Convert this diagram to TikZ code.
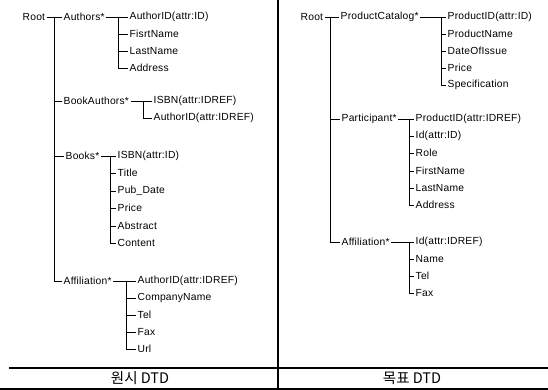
\documentclass[tikz,border=0pt]{standalone}
\usepackage{fontspec}
\setmainfont{Liberation Sans}[LetterSpace=2]
\newfontfamily\krfont{Noto Sans CJK KR}
\begin{document}
\begin{tikzpicture}[x=1pt,y=-1pt,
  lbl/.style={anchor=west,inner sep=1.5pt,font=\fontsize{10.3}{12}\selectfont},
  conn/.style={line width=0.7pt},
  frame/.style={line width=1.1pt},
  title/.style={font=\krfont\fontsize{14.5}{16}\selectfont,inner sep=1pt}]
\useasboundingbox (0,0) rectangle (548,390);
% ---------- left panel ----------
\node[lbl] (root1) at (21,17) {Root};
\node[lbl] (authors) at (62,17) {Authors*};
\node[lbl] (a1) at (128,17) {AuthorID(attr:ID)};
\node[lbl] (a2) at (128,34) {FisrtName};
\node[lbl] (a3) at (128,51) {LastName};
\node[lbl] (a4) at (128,68) {Address};
\node[lbl] (bauth) at (62,101) {BookAuthors*};
\node[lbl] (b1) at (152,101) {ISBN(attr:IDREF)};
\node[lbl] (b2) at (152,118) {AuthorID(attr:IDREF)};
\node[lbl] (books) at (64,156) {Books*};
\node[lbl] (c1) at (116,156) {ISBN(attr:ID)};
\node[lbl] (c2) at (116,173) {Title};
\node[lbl] (c3) at (116,191) {Pub\_Date};
\node[lbl] (c4) at (116,208) {Price};
\node[lbl] (c5) at (116,226) {Abstract};
\node[lbl] (c6) at (116,243) {Content};
\node[lbl] (aff1) at (62,281) {Affiliation*};
\node[lbl] (d1) at (136,281) {AuthorID(attr:IDREF)};
\node[lbl] (d2) at (136,298) {CompanyName};
\node[lbl] (d3) at (136,315) {Tel};
\node[lbl] (d4) at (136,332) {Fax};
\node[lbl] (d5) at (136,349) {Url};
\coordinate (t0) at (54,17);
\coordinate (tA) at (118,17);
\coordinate (tB) at (143,101);
\coordinate (tC) at (110,156);
\coordinate (tD) at (126,281);
\draw[conn] (root1.east) -- (authors.west);
\draw[conn] (t0) |- (aff1.west);
\draw[conn] (t0 |- bauth.west) -- (bauth.west);
\draw[conn] (t0 |- books.west) -- (books.west);
\draw[conn] (authors.east) -- (a1.west);
\draw[conn] (tA) |- (a4.west);
\foreach \n in {a2,a3} \draw[conn] (tA |- \n.west) -- (\n.west);
\draw[conn] (bauth.east) -- (b1.west);
\draw[conn] (tB) |- (b2.west);
\draw[conn] (books.east) -- (c1.west);
\draw[conn] (tC) |- (c6.west);
\foreach \n in {c2,c3,c4,c5} \draw[conn] (tC |- \n.west) -- (\n.west);
\draw[conn] (aff1.east) -- (d1.west);
\draw[conn] (tD) |- (d5.west);
\foreach \n in {d2,d3,d4} \draw[conn] (tD |- \n.west) -- (\n.west);
% ---------- right panel ----------
\node[lbl] (root2) at (299,17) {Root};
\node[lbl] (pcat) at (339,17) {ProductCatalog*};
\node[lbl] (p1) at (446,17) {ProductID(attr:ID)};
\node[lbl] (p2) at (446,34) {ProductName};
\node[lbl] (p3) at (446,51) {DateOfIssue};
\node[lbl] (p4) at (446,68) {Price};
\node[lbl] (p5) at (446,85) {Specification};
\node[lbl] (part) at (340,119) {Participant*};
\node[lbl] (q1) at (414,119) {ProductID(attr:IDREF)};
\node[lbl] (q2) at (414,136) {Id(attr:ID)};
\node[lbl] (q3) at (414,153) {Role};
\node[lbl] (q4) at (414,171) {FirstName};
\node[lbl] (q5) at (414,188) {LastName};
\node[lbl] (q6) at (414,205) {Address};
\node[lbl] (aff2) at (340,242) {Affiliation*};
\node[lbl] (r1) at (414,242) {Id(attr:IDREF)};
\node[lbl] (r2) at (414,259) {Name};
\node[lbl] (r3) at (414,276) {Tel};
\node[lbl] (r4) at (414,293) {Fax};
\coordinate (u0) at (330,17);
\coordinate (uA) at (441,17);
\coordinate (uB) at (409,119);
\coordinate (uC) at (409,242);
\draw[conn] (root2.east) -- (pcat.west);
\draw[conn] (u0) |- (aff2.west);
\draw[conn] (u0 |- part.west) -- (part.west);
\draw[conn] (pcat.east) -- (p1.west);
\draw[conn] (uA) |- (p5.west);
\foreach \n in {p2,p3,p4} \draw[conn] (uA |- \n.west) -- (\n.west);
\draw[conn] (part.east) -- (q1.west);
\draw[conn] (uB) |- (q6.west);
\foreach \n in {q2,q3,q4,q5} \draw[conn] (uB |- \n.west) -- (\n.west);
\draw[conn] (aff2.east) -- (r1.west);
\draw[conn] (uC) |- (r4.west);
\foreach \n in {r2,r3} \draw[conn] (uC |- \n.west) -- (\n.west);
% ---------- frame ----------
\coordinate (ftop) at (278,0);
\coordinate (fbot) at (278,389);
\coordinate (hl1) at (9,368);
\coordinate (hr1) at (548,368);
\coordinate (hl2) at (0,389);
\coordinate (hr2) at (548,389);
\draw[frame] (ftop) -- (fbot);
\draw[frame] (hl1) -- (hr1);
\draw[frame] (hl2) -- (hr2);
\node[title] (src) at (140,378.5) {원시 DTD};
\node[title] (tgt) at (412,378.5) {목표 DTD};
\end{tikzpicture}
\end{document}
